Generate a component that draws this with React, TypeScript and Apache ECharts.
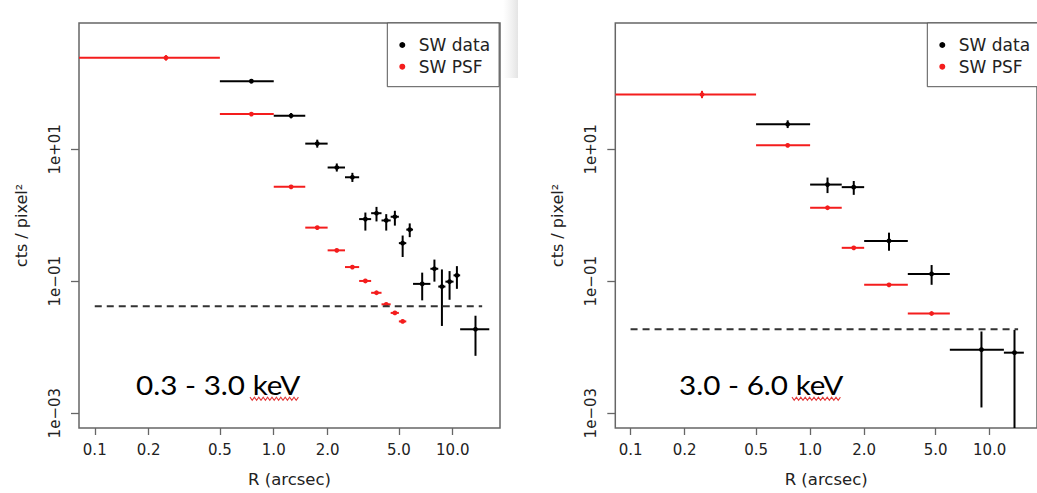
import { useEffect, useRef } from "react";
import * as echarts from "echarts";

// ---------- tick labels ----------
const xTickValues = [0.1, 0.2, 0.5, 1, 2, 5, 10];
const xTickLabels = ["0.1", "0.2", "0.5", "1.0", "2.0", "5.0", "10.0"];
const yTickValues = [0.001, 0.1, 10];
const yTickLabels = ["1e\u221203", "1e\u221201", "1e+01"];

// ---------- left panel (0.3 - 3.0 keV) ----------
const leftDataR = [0.75, 1.25, 1.75, 2.25, 2.75, 3.25, 3.75, 4.25, 4.75, 5.25, 5.75, 6.75, 7.9, 8.7, 9.6, 10.55, 13.4];
const leftDataRLo = [0.5, 1.0, 1.5, 2.0, 2.5, 3.0, 3.5, 4.0, 4.5, 5.0, 5.5, 6.0, 7.5, 8.3, 9.1, 10.1, 11.0];
const leftDataRHi = [1.0, 1.5, 2.0, 2.5, 3.0, 3.5, 4.0, 4.5, 5.0, 5.5, 6.0, 7.5, 8.3, 9.1, 10.1, 11.0, 16.0];
const leftDataY = [108, 32.3, 12.2, 5.3, 3.77, 0.875, 1.075, 0.835, 0.95, 0.378, 0.606, 0.0912, 0.1545, 0.083, 0.0986, 0.1228, 0.0187];
const leftDataYLo = [100, 29.5, 10.6, 4.6, 3.2, 0.586, 0.807, 0.586, 0.697, 0.233, 0.466, 0.0513, 0.0986, 0.021, 0.0524, 0.0767, 0.0074];
const leftDataYHi = [116, 35.5, 14.0, 6.1, 4.4, 1.10, 1.34, 1.04, 1.17, 0.493, 0.753, 0.135, 0.213, 0.151, 0.1425, 0.1694, 0.030];

const leftPsfR = [0.25, 0.75, 1.25, 1.75, 2.25, 2.75, 3.25, 3.75, 4.25, 4.75, 5.25];
const leftPsfRLo = [0, 0.5, 1.0, 1.5, 2.0, 2.5, 3.0, 3.5, 4.0, 4.5, 5.0];
const leftPsfRHi = [0.5, 1.0, 1.5, 2.0, 2.5, 3.0, 3.5, 4.0, 4.5, 5.0, 5.5];
const leftPsfY = [244, 34.2, 2.70, 0.650, 0.294, 0.164, 0.101, 0.0668, 0.0447, 0.0331, 0.0246];
const leftPsfYLo = [222, 34.2, 2.70, 0.650, 0.294, 0.164, 0.101, 0.0668, 0.0447, 0.0331, 0.0246];
const leftPsfYHi = [268, 34.2, 2.70, 0.650, 0.294, 0.164, 0.101, 0.0668, 0.0447, 0.0331, 0.0246];

const leftBackground = 0.0417;
const leftBackgroundR = [0.1, 14.6];

// ---------- right panel (3.0 - 6.0 keV) ----------
const rightDataR = [0.75, 1.25, 1.75, 2.75, 4.75, 9.0, 13.75];
const rightDataRLo = [0.5, 1.0, 1.5, 2.0, 3.5, 6.0, 12.0];
const rightDataRHi = [1.0, 1.5, 2.0, 3.5, 6.0, 12.0, 15.5];
const rightDataY = [24.0, 2.92, 2.67, 0.409, 0.129, 0.00917, 0.00826];
const rightDataYLo = [21.0, 2.17, 2.04, 0.290, 0.0883, 0.00122, 0];
const rightDataYHi = [27.5, 3.73, 3.31, 0.545, 0.176, 0.0173, 0.0183];

const rightPsfR = [0.25, 0.75, 1.25, 1.75, 2.75, 4.75];
const rightPsfRLo = [0, 0.5, 1.0, 1.5, 2.0, 3.5];
const rightPsfRHi = [0.5, 1.0, 1.5, 2.0, 3.5, 6.0];
const rightPsfY = [67.8, 11.5, 1.30, 0.321, 0.0883, 0.0324];
const rightPsfYLo = [59.6, 11.5, 1.30, 0.321, 0.0883, 0.0324];
const rightPsfYHi = [77.0, 11.5, 1.30, 0.321, 0.0883, 0.0324];

const rightBackground = 0.0187;
const rightBackgroundR = [0.1, 14.4];

const bandLabels = ["0.3 - 3.0 keV", "3.0 - 6.0 keV"];
const seriesNames = ["SW data", "SW PSF"];

// ---------- helpers ----------
const lg = (v: number) => Math.log10(v);
const X_MIN_L = -1.088, X_MAX_L = 1.264;
const X_MIN_R = -1.085, X_MAX_R = 1.2636;
const Y_MIN = -3.225, Y_MAX = 2.915;

function rows(x: number[], xlo: number[], xhi: number[], y: number[], ylo: number[], yhi: number[], xmin: number) {
  return x.map((v, i) => [
    lg(v),
    xlo[i] > 0 ? Math.max(lg(xlo[i]), xmin) : xmin,
    lg(xhi[i]),
    lg(y[i]),
    ylo[i] > 0 ? Math.max(lg(ylo[i]), Y_MIN) : Y_MIN,
    lg(yhi[i]),
  ]);
}

function makeRender(color: string) {
  return (_params: any, api: any) => {
    const c = api.coord([api.value(0), api.value(3)]);
    const l = api.coord([api.value(1), api.value(3)]);
    const r = api.coord([api.value(2), api.value(3)]);
    const lo = api.coord([api.value(0), api.value(4)]);
    const hi = api.coord([api.value(0), api.value(5)]);
    const children: any[] = [
      { type: "line", shape: { x1: l[0], y1: l[1], x2: r[0], y2: r[1] }, style: { stroke: color, lineWidth: 2 } },
    ];
    if (Math.abs(lo[1] - hi[1]) > 0.5) {
      children.push({ type: "line", shape: { x1: lo[0], y1: lo[1], x2: hi[0], y2: hi[1] }, style: { stroke: color, lineWidth: 2 } });
    }
    children.push({ type: "circle", shape: { cx: c[0], cy: c[1], r: 2.4 }, style: { fill: color } });
    return { type: "group", children };
  };
}

const labelFor = (values: number[], labels: string[]) => (v: number) => {
  const i = values.findIndex((t) => Math.abs(lg(t) - v) < 1e-6);
  return i >= 0 ? labels[i] : "";
};

const BLACK = "#000000";
const RED = "#f41d1d";
const AXIS = "#666666";
const TEXT = "#222222";
const FONT = "DejaVu Sans";

function xAxis(gridIndex: number, min: number, max: number) {
  const vals = xTickValues.map(lg);
  return {
    type: "value",
    gridIndex,
    min,
    max,
    name: "R (arcsec)",
    nameLocation: "middle",
    nameGap: 43,
    nameTextStyle: { fontFamily: FONT, fontSize: 16.5, color: TEXT },
    axisLine: { show: false, onZero: false },
    splitLine: { show: false },
    axisTick: { show: true, length: 7, customValues: vals, lineStyle: { color: AXIS, width: 1.3 } },
    axisLabel: {
      customValues: vals,
      margin: 14,
      fontFamily: FONT,
      fontSize: 15,
      color: TEXT,
      formatter: labelFor(xTickValues, xTickLabels),
    },
  };
}

function yAxis(gridIndex: number) {
  const vals = yTickValues.map(lg);
  return {
    type: "value",
    gridIndex,
    min: Y_MIN,
    max: Y_MAX,
    name: "cts / pixel\u00B2",
    nameLocation: "middle",
    nameRotate: 90,
    nameGap: 50,
    nameTextStyle: { fontFamily: FONT, fontSize: 16, color: TEXT },
    axisLine: { show: false, onZero: false },
    splitLine: { show: false },
    axisTick: { show: true, length: 8, customValues: vals, lineStyle: { color: AXIS, width: 1.3 } },
    axisLabel: {
      customValues: vals,
      rotate: 90,
      margin: 17,
      fontFamily: FONT,
      fontSize: 15,
      color: TEXT,
      formatter: labelFor(yTickValues, yTickLabels),
    },
  };
}

function legend(left: number) {
  return {
    orient: "vertical",
    left,
    top: 23,
    itemWidth: 23,
    itemHeight: 6,
    itemGap: 3.7,
    padding: [13, 9, 11, 12],
    borderColor: "#555555",
    borderWidth: 1,
    borderRadius: 0,
    backgroundColor: "#ffffff",
    selectedMode: false,
    textStyle: { fontFamily: FONT, fontSize: 17, color: TEXT, lineHeight: 18 },
    data: [
      { name: seriesNames[0], icon: "circle", itemStyle: { color: BLACK } },
      { name: seriesNames[1], icon: "circle", itemStyle: { color: RED } },
    ],
  };
}

function squiggle(x0: number, x1: number, y: number) {
  const pts: number[][] = [];
  let k = 0;
  for (let x = x0; x <= x1; x += 2.2) {
    pts.push([x, y + (k % 2 === 0 ? -1.6 : 1.6)]);
    k++;
  }
  return {
    type: "polyline",
    shape: { points: pts },
    style: { stroke: "#e23a3a", lineWidth: 1.1, fill: null },
    z: 10,
  };
}

export default function App() {
  const ref = useRef<HTMLDivElement>(null);
  useEffect(() => {
    if (!ref.current) return;
    const chart = echarts.init(ref.current, undefined, { renderer: "svg" });
    const option: any = {
      animation: false,
      backgroundColor: "#ffffff",
      grid: [
        { left: 79, top: 23, width: 421, height: 410, show: true, borderColor: AXIS, borderWidth: 1.5, backgroundColor: "transparent" },
        { left: 615.3, top: 23, width: 426.7, height: 409.7, show: true, borderColor: AXIS, borderWidth: 1.5, backgroundColor: "transparent" },
      ],
      xAxis: [xAxis(0, X_MIN_L, X_MAX_L), xAxis(1, X_MIN_R, X_MAX_R)],
      yAxis: [yAxis(0), yAxis(1)],
      legend: [legend(387.3), legend(927.3)],
      series: [
        {
          type: "line",
          name: "background L",
          xAxisIndex: 0,
          yAxisIndex: 0,
          data: leftBackgroundR.map((r) => [lg(r), lg(leftBackground)]),
          symbol: "none",
          lineStyle: { color: "#333333", width: 2, type: [7, 5] },
          silent: true,
        },
        {
          type: "line",
          name: "background R",
          xAxisIndex: 1,
          yAxisIndex: 1,
          data: rightBackgroundR.map((r) => [lg(r), lg(rightBackground)]),
          symbol: "none",
          lineStyle: { color: "#333333", width: 2, type: [7, 5] },
          silent: true,
        },
        {
          type: "custom",
          name: seriesNames[1],
          xAxisIndex: 0,
          yAxisIndex: 0,
          itemStyle: { color: RED },
          clip: true,
          renderItem: makeRender(RED),
          encode: { x: [0, 1, 2], y: [3, 4, 5] },
          data: rows(leftPsfR, leftPsfRLo, leftPsfRHi, leftPsfY, leftPsfYLo, leftPsfYHi, X_MIN_L),
        },
        {
          type: "custom",
          name: seriesNames[0],
          xAxisIndex: 0,
          yAxisIndex: 0,
          itemStyle: { color: BLACK },
          clip: true,
          renderItem: makeRender(BLACK),
          encode: { x: [0, 1, 2], y: [3, 4, 5] },
          data: rows(leftDataR, leftDataRLo, leftDataRHi, leftDataY, leftDataYLo, leftDataYHi, X_MIN_L),
        },
        {
          type: "custom",
          name: seriesNames[1],
          xAxisIndex: 1,
          yAxisIndex: 1,
          itemStyle: { color: RED },
          clip: true,
          renderItem: makeRender(RED),
          encode: { x: [0, 1, 2], y: [3, 4, 5] },
          data: rows(rightPsfR, rightPsfRLo, rightPsfRHi, rightPsfY, rightPsfYLo, rightPsfYHi, X_MIN_R),
        },
        {
          type: "custom",
          name: seriesNames[0],
          xAxisIndex: 1,
          yAxisIndex: 1,
          itemStyle: { color: BLACK },
          clip: true,
          renderItem: makeRender(BLACK),
          encode: { x: [0, 1, 2], y: [3, 4, 5] },
          data: rows(rightDataR, rightDataRLo, rightDataRHi, rightDataY, rightDataYLo, rightDataYHi, X_MIN_R),
        },
      ],
      graphic: [
        {
          type: "rect",
          shape: { x: 503, y: 0, width: 15, height: 78 },
          style: {
            fill: new echarts.graphic.LinearGradient(0, 0, 1, 0, [
              { offset: 0, color: "rgba(235,235,235,0)" },
              { offset: 1, color: "rgba(228,228,228,1)" },
            ]),
          },
          z: -1,
          silent: true,
        },
        {
          type: "text",
          x: 136,
          y: 384.5,
          scaleX: 1.12,
          style: { text: bandLabels[0], font: "26.5px Lato", fill: "#000000", verticalAlign: "middle", align: "left" },
          z: 10,
        },
        {
          type: "text",
          x: 679,
          y: 384.5,
          scaleX: 1.12,
          style: { text: bandLabels[1], font: "26.5px Lato", fill: "#000000", verticalAlign: "middle", align: "left" },
          z: 10,
        },
        squiggle(250, 300, 398.7),
        squiggle(792, 842, 398.7),
      ],
    };
    chart.setOption(option);
    return () => chart.dispose();
  }, []);
  return (
    <div
      ref={ref}
      style={{ position: "fixed", left: 0, top: 0, width: 1037, height: 493, background: "#ffffff" }}
    />
  );
}
